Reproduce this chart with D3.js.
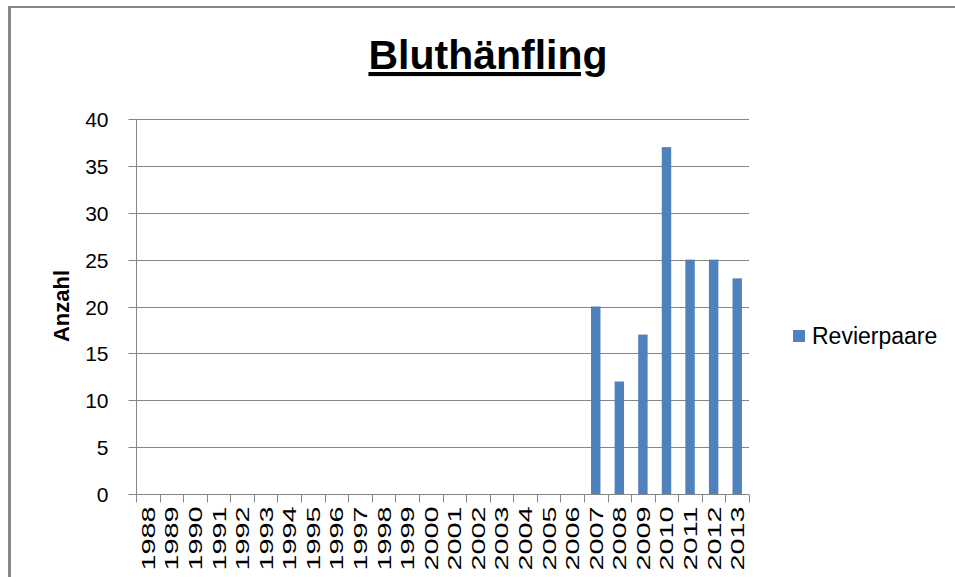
<!DOCTYPE html>
<html>
<head>
<meta charset="utf-8">
<script src="https://cdn.jsdelivr.net/npm/d3@7/dist/d3.min.js"></script>
<style>
  html, body { margin: 0; padding: 0; background: #fff; }
  svg { display: block; }
</style>
</head>
<body>
<svg id="chart" width="955" height="577"></svg>
<script>
// Bluthänfling – Revierpaare per year
const years = [1988, 1989, 1990, 1991, 1992, 1993, 1994, 1995, 1996, 1997, 1998, 1999, 2000,
               2001, 2002, 2003, 2004, 2005, 2006, 2007, 2008, 2009, 2010, 2011, 2012, 2013];
const pairs = [null, null, null, null, null, null, null, null, null, null, null, null, null,
               null, null, null, null, null, null, 20, 12, 17, 37, 25, 25, 23];
const yTicks = [0, 5, 10, 15, 20, 25, 30, 35, 40];
const titleText = "Bluthänfling";
const yTitle = "Anzahl";
const seriesName = "Revierpaare";

const svg = d3.select("#chart");
const gridColor = "#868686";
const barColor = "#4f81bd";
const font = "'Liberation Sans', Arial, sans-serif";

const plot = { left: 136, right: 749, top: 119, bottom: 494 };

// frame lines of the chart area
svg.append("line").attr("x1", 8).attr("x2", 955).attr("y1", 7).attr("y2", 7)
  .attr("stroke", "#878787").attr("stroke-width", 2);
svg.append("line").attr("x1", 9.5).attr("x2", 9.5).attr("y1", 6).attr("y2", 577)
  .attr("stroke", "#878787").attr("stroke-width", 3);

const x = d3.scaleBand().domain(years).range([plot.left, plot.right]).paddingInner(0).paddingOuter(0);
const y = d3.scaleLinear().domain([0, 40]).range([plot.bottom, plot.top]);

// horizontal gridlines
svg.append("g").selectAll("line").data(yTicks.filter(d => d > 0)).join("line")
  .attr("x1", plot.left).attr("x2", plot.right)
  .attr("y1", d => Math.round(y(d)) + 0.5).attr("y2", d => Math.round(y(d)) + 0.5)
  .attr("stroke", gridColor).attr("stroke-width", 1);

// bars: 150% gap width
const barW = x.bandwidth() / 2.5;
svg.append("g").selectAll("rect").data(years.map((yr, i) => ({ yr, v: pairs[i] })).filter(d => d.v != null))
  .join("rect")
  .attr("x", d => x(d.yr) + (x.bandwidth() - barW) / 2)
  .attr("width", barW)
  .attr("y", d => y(d.v))
  .attr("height", d => y(0) - y(d.v))
  .attr("fill", barColor);

// y axis
const yAxis = d3.axisLeft(y).tickValues(yTicks).tickSize(8).tickPadding(20).tickFormat(d3.format("d"));
const gy = svg.append("g").attr("transform", `translate(${plot.left + 0.5},0)`).call(yAxis);
gy.select(".domain").attr("stroke", gridColor).attr("d", `M0,${plot.top}V${plot.bottom}`);
gy.selectAll(".tick line").attr("stroke", gridColor);
gy.selectAll(".tick").attr("transform", d => `translate(0,${Math.round(y(d)) + 0.5})`);
gy.selectAll(".tick text").attr("font-family", font).attr("font-size", 21).attr("fill", "#000")
  .attr("dy", "0.36em");

// x axis: ticks on category boundaries
const gx = svg.append("g").attr("transform", `translate(0,${plot.bottom + 0.5})`);
gx.append("line").attr("x1", plot.left).attr("x2", plot.right).attr("stroke", gridColor);
const bounds = years.map(yr => x(yr)).concat([plot.right]);
gx.selectAll("line.tk").data(bounds).join("line").attr("class", "tk")
  .attr("x1", d => Math.round(d) + 0.5).attr("x2", d => Math.round(d) + 0.5)
  .attr("y1", 0).attr("y2", 8).attr("stroke", gridColor);
gx.selectAll("text").data(years).join("text")
  .attr("transform", d => `translate(${x(d) + x.bandwidth() / 2 + 7},12) rotate(-90)`)
  .attr("text-anchor", "end")
  .attr("font-family", font).attr("font-size", 19).attr("fill", "#000")
  .attr("textLength", 64).attr("lengthAdjust", "spacingAndGlyphs")
  .text(d => d);

// title
svg.append("text").attr("x", 488).attr("y", 69).attr("text-anchor", "middle")
  .attr("font-family", font).attr("font-size", 41).attr("font-weight", "bold")
  .attr("text-decoration", "underline").attr("fill", "#000")
  .text(titleText);

// y axis title
svg.append("text").attr("transform", "translate(69,306) rotate(-90)").attr("text-anchor", "middle")
  .attr("font-family", font).attr("font-size", 22).attr("font-weight", "bold").attr("fill", "#000")
  .text(yTitle);

// legend
svg.append("rect").attr("x", 793).attr("y", 330).attr("width", 12).attr("height", 12).attr("fill", barColor);
svg.append("text").attr("x", 812).attr("y", 344)
  .attr("font-family", font).attr("font-size", 23).attr("fill", "#000")
  .text(seriesName);
</script>
</body>
</html>
